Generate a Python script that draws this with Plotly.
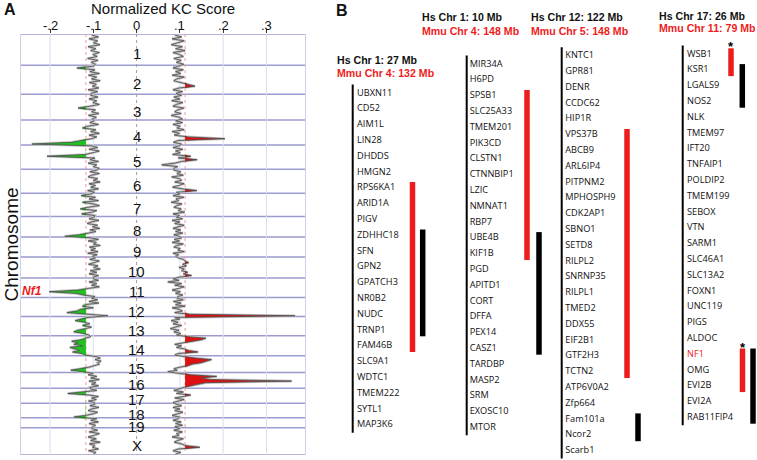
import plotly.graph_objects as go

# ======================= DATA =======================
# ---- Panel A: mouse chromosomes and normalized KC scores ----
CHROMS = ["1", "2", "3", "4", "5", "6", "7", "8", "9", "10",
          "11", "12", "13", "14", "15", "16", "17", "18", "19", "X"]
CHROM_MB = [195.5, 182.1, 160.0, 156.5, 151.8, 149.7, 145.4, 129.4, 124.6, 130.7,
            122.1, 120.1, 120.4, 124.9, 104.0, 98.2, 95.0, 90.7, 61.4, 171.0]
KC_TICKS = [-0.2, -0.1, 0.0, 0.1, 0.2, 0.3]
KC_TICK_TEXT = ["-.2", "-.1", "0", ".1", ".2", ".3"]
NEG_THRESHOLD = -0.117
POS_THRESHOLD = 0.112
NF1_CHROM = "11"
NF1_MB = 79.3

# KC scores (x 1000), evenly sampled along each chromosome
NEG_KC_MILLI = [
    [-104, -88, -110, -90, -100, -85, -112, -94, -106, -86, -101, -91, -113, -89, -105, -95],
    [-100, -138, -96, -108, -86, -111, -92, -104, -84, -109, -93, -102, -87, -112, -90, -105],
    [-106, -89, -110, -92, -101, -86, -108, -135, -95, -104, -87, -111, -93, -102],
    [-98, -108, -88, -112, -125, -94, -106, -86, -110, -92, -104, -128, -150, -242],
    [-104, -90, -110, -86, -102, -118, -207, -96, -108, -88, -112, -92, -100, -86],
    [-92, -108, -86, -104, -112, -90, -100, -84, -110, -95, -106, -88, -113, -97],
    [-106, -128, -95, -110, -88, -125, -100, -86, -112, -130, -92, -104, -127, -96],
    [-98, -110, -87, -105, -114, -90, -102, -85, -108, -94, -111, -132, -166],
    [-104, -88, -112, -93, -100, -84, -109, -95, -106, -89, -113, -91, -102],
    [-95, -108, -86, -102, -111, -89, -99, -84, -107, -92, -110, -88, -100],
    [-100, -88, -110, -92, -104, -86, -112, -135, -202, -140, -122, -96],
    [-104, -90, -110, -87, -118, -125, -100, -130, -138, -161, -112, -66],
    [-112, -128, -142, -120, -108, -125, -104, -118, -136, -145, -122, -110],
    [-106, -118, -128, -150, -135, -145, -125, -154, -140, -132, -148, -126, -120],
    [-92, -84, -96, -82, -90, -86, -98, -110, -130, -152, -125],
    [-100, -112, -92, -106, -86, -110, -94, -104, -88, -108],
    [-106, -92, -122, -159, -110, -88, -104, -93, -111, -97],
    [-96, -108, -87, -104, -112, -90, -100, -118, -145],
    [-92, -106, -88, -110, -95, -102],
    [-104, -90, -110, -86, -100, -112, -93, -106, -84, -109, -96, -102, -88, -111, -94, -100],
]
POS_KC_MILLI = [
    [88, 104, 82, 110, 95, 80, 106, 90, 112, 84, 99, 108, 86, 103, 92, 109],
    [96, 84, 108, 90, 102, 82, 110, 93, 86, 104, 118, 135, 98, 84, 106, 91],
    [104, 86, 100, 81, 107, 92, 84, 109, 95, 88, 103, 80, 98, 106],
    [90, 106, 84, 101, 93, 110, 82, 99, 87, 118, 204, 96, 85, 104],
    [98, 84, 107, 90, 101, 83, 125, 96, 140, 104, 88, 58, 95, 86],
    [86, 102, 93, 108, 81, 99, 104, 88, 110, 94, 83, 106, 139, 92],
    [100, 84, 109, 91, 97, 80, 105, 93, 86, 103, 96, 111, 84, 99],
    [92, 106, 82, 100, 88, 110, 95, 84, 102, 90, 107, 86, 98],
    [104, 87, 99, 82, 108, 93, 86, 101, 95, 110, 84, 97, 90],
    [96, 108, 112, 120, 106, 115, 98, 110, 104, 118, 108, 127, 100],
    [84, 98, 72, 104, 88, 110, 93, 82, 101, 90, 107, 95],
    [94, 108, 85, 103, 90, 112, 82, 99, 106, 88, 122, 366],
    [88, 100, 80, 96, 84, 104, 90, 78, 98, 86, 102, 92],
    [118, 160, 150, 128, 100, 88, 104, 92, 110, 120, 142, 96, 88],
    [108, 135, 173, 160, 150, 128, 118, 100, 86, 94, 72],
    [96, 125, 185, 150, 170, 358, 160, 140, 125, 110],
    [100, 86, 108, 92, 125, 104, 88, 110, 95, 84],
    [92, 104, 84, 100, 88, 107, 95, 82, 99],
    [96, 84, 103, 90, 106, 88],
    [100, 86, 106, 92, 98, 82, 108, 95, 87, 104, 112, 146, 96, 84, 102, 90],
]

# ---- Panel B: syntenic gene lists ----
HS_LABELS = ["Hs Chr 1: 27 Mb", "Hs Chr 1: 10 Mb", "Hs Chr 12: 122 Mb", "Hs Chr 17: 26 Mb"]
MMU_LABELS = ["Mmu Chr 4: 132 Mb", "Mmu Chr 4: 148 Mb", "Mmu Chr 5: 148 Mb", "Mmu Chr 11: 79 Mb"]
GENES_1 = ["UBXN11", "CD52", "AIM1L", "LIN28", "DHDDS", "HMGN2", "RPS6KA1", "ARID1A",
           "PIGV", "ZDHHC18", "SFN", "GPN2", "GPATCH3", "NR0B2", "NUDC", "TRNP1",
           "FAM46B", "SLC9A1", "WDTC1", "TMEM222", "SYTL1", "MAP3K6"]
GENES_2 = ["MIR34A", "H6PD", "SPSB1", "SLC25A33", "TMEM201", "PIK3CD", "CLSTN1",
           "CTNNBIP1", "LZIC", "NMNAT1", "RBP7", "UBE4B", "KIF1B", "PGD", "APITD1",
           "CORT", "DFFA", "PEX14", "CASZ1", "TARDBP", "MASP2", "SRM", "EXOSC10", "MTOR"]
GENES_3 = ["KNTC1", "GPR81", "DENR", "CCDC62", "HIP1R", "VPS37B", "ABCB9", "ARL6IP4",
           "PITPNM2", "MPHOSPH9", "CDK2AP1", "SBNO1", "SETD8", "RILPL2", "SNRNP35",
           "RILPL1", "TMED2", "DDX55", "EIF2B1", "GTF2H3", "TCTN2", "ATP6V0A2",
           "Zfp664", "Fam101a", "Ncor2", "Scarb1"]
GENES_4 = ["WSB1", "KSR1", "LGALS9", "NOS2", "NLK", "TMEM97", "IFT20", "TNFAIP1",
           "POLDIP2", "TMEM199", "SEBOX", "VTN", "SARM1", "SLC46A1", "SLC13A2", "FOXN1",
           "UNC119", "PIGS", "ALDOC", "NF1", "OMG", "EVI2B", "EVI2A", "RAB11FIP4"]
HIGHLIGHT_GENE = "NF1"
BAR_COLUMN = [0, 0, 1, 1, 2, 2, 3, 3, 3, 3]
BAR_START = ["RPS6KA1", "ZDHHC18", "SPSB1", "UBE4B", "VPS37B", "Fam101a", "WSB1", "KSR1", "NF1", "NF1"]
BAR_END = ["FAM46B", "TRNP1", "KIF1B", "CASZ1", "TCTN2", "Ncor2", "KSR1", "NOS2", "EVI2B", "RAB11FIP4"]
BAR_KIND = ["red", "black", "red", "black", "red", "black", "red", "black", "red", "black"]
BAR_STAR = [False, False, False, False, False, False, True, False, True, False]

# ======================= LAYOUT / STYLE =======================
W, H = 757, 460
FONT = "Liberation Sans, Arial, sans-serif"
GENE_FONT = "Open Sans, sans-serif"
RED = "#ee1c1c"
A_LEFT, A_RIGHT, A_TOP, A_BOTTOM = 21, 305, 34, 455
ROW_H = 15.8
COLS = [
    dict(hx=335, hs_y=60, mmu_y=72.7, line_x=352.7, text_x=357, first_y=93.3),
    dict(hx=420, hs_y=17, mmu_y=31, line_x=466.7, text_x=469.7, first_y=64.3),
    dict(hx=529, hs_y=16.7, mmu_y=30.7, line_x=561.7, text_x=565.3, first_y=56),
    dict(hx=656.7, hs_y=15.7, mmu_y=28.3, line_x=682.7, text_x=687, first_y=54.3),
]
BAR_X = [412.5, 422.7, 527, 539, 627, 638, 731, 742.3, 742.5, 753]
BAR_W = 5.5
GENE_LISTS = [GENES_1, GENES_2, GENES_3, GENES_4]


def px(xp):
    return xp / W


def py(yp):
    return 1 - yp / H


fig = go.Figure()

# ---------- Panel A ----------
starts = []
acc = 0.0
for L in CHROM_MB:
    starts.append(acc)
    acc += L
TOTAL = acc

ys_n, neg = [], []
ys_p, pos = [], []
for c, L in enumerate(CHROM_MB):
    nv = NEG_KC_MILLI[c]
    for j, v in enumerate(nv):
        ys_n.append(starts[c] + (j + 0.5) / len(nv) * L)
        neg.append(v / 1000)
    pv = POS_KC_MILLI[c]
    for j, v in enumerate(pv):
        ys_p.append(starts[c] + (j + 0.5) / len(pv) * L)
        pos.append(v / 1000)

common = dict(mode="lines", showlegend=False, hoverinfo="skip", xaxis="x", yaxis="y")
# gray underlay giving the trace its band-like look
fig.add_trace(go.Scatter(x=neg, y=ys_n, line=dict(color="#c4c4c4", width=2.6), **common))
fig.add_trace(go.Scatter(x=pos, y=ys_p, line=dict(color="#c4c4c4", width=2.6), **common))
fig.add_trace(go.Scatter(x=[NEG_THRESHOLD] * len(ys_n), y=ys_n, line=dict(width=0), **common))
fig.add_trace(go.Scatter(x=[min(v, NEG_THRESHOLD) for v in neg], y=ys_n, line=dict(width=0),
                         fill="tonextx", fillcolor="#1fc21f", **common))
fig.add_trace(go.Scatter(x=[POS_THRESHOLD] * len(ys_p), y=ys_p, line=dict(width=0), **common))
fig.add_trace(go.Scatter(x=[max(v, POS_THRESHOLD) for v in pos], y=ys_p, line=dict(width=0),
                         fill="tonextx", fillcolor="#dd1111", **common))
fig.add_trace(go.Scatter(x=neg, y=ys_n, line=dict(color="#4a4a4a", width=0.8), **common))
fig.add_trace(go.Scatter(x=pos, y=ys_p, line=dict(color="#4a4a4a", width=0.8), **common))

shapes = []
for t in KC_TICKS:
    if t == 0:
        shapes.append(dict(type="line", xref="x", yref="y", x0=t, x1=t, y0=0, y1=TOTAL,
                           line=dict(color="#a0a0a0", width=1, dash="dot"), layer="below"))
    else:
        shapes.append(dict(type="line", xref="x", yref="y", x0=t, x1=t, y0=0, y1=TOTAL,
                           line=dict(color="#dcdcf2", width=1), layer="below"))
for thr in (NEG_THRESHOLD, POS_THRESHOLD):
    shapes.append(dict(type="line", xref="x", yref="y", x0=thr, x1=thr, y0=0, y1=TOTAL,
                       line=dict(color="#f19a9a", width=1, dash="dot"), layer="below"))
for b in starts + [TOTAL]:
    shapes.append(dict(type="line", xref="x domain", yref="y", x0=0, x1=1, y0=b, y1=b,
                       line=dict(color="#9b9bcf", width=1.5), layer="below"))

annotations = []


def ann(**kw):
    kw.setdefault("showarrow", False)
    kw.setdefault("xanchor", "center")
    kw.setdefault("yanchor", "middle")
    annotations.append(kw)


for c, name in enumerate(CHROMS):
    ann(x=0, y=starts[c] + CHROM_MB[c] / 2, xref="x", yref="y", text=name, yshift=-4,
        font=dict(family=FONT, size=15, color="#111"))
for t, lab in zip(KC_TICKS, KC_TICK_TEXT):
    ann(x=t, y=py(25), xref="x", yref="paper", text=lab,
        font=dict(family=FONT, size=13, color="#111"))
ann(x=px(32), y=starts[CHROMS.index(NF1_CHROM)] + NF1_MB, xref="paper", yref="y",
    text="<b><i>Nf1</i></b>", font=dict(family=FONT, size=12, color=RED))
ann(x=px((A_LEFT + A_RIGHT) / 2), y=py(8), xref="paper", yref="paper",
    text="Normalized KC Score", font=dict(family=FONT, size=15, color="#111"))
ann(x=px(11), y=py((A_TOP + A_BOTTOM) / 2), xref="paper", yref="paper",
    text="Chromosome", textangle=-90, font=dict(family=FONT, size=19, color="#111"))
ann(x=px(10), y=py(9), xref="paper", yref="paper", text="<b>A</b>",
    font=dict(family=FONT, size=16, color="#111"))
ann(x=px(342), y=py(11), xref="paper", yref="paper", text="<b>B</b>",
    font=dict(family=FONT, size=16, color="#111"))

# ---------- Panel B ----------
for c, genes in enumerate(GENE_LISTS):
    ya = "y%d" % (c + 2)
    col = COLS[c]
    fig.add_trace(go.Scatter(
        x=[col["text_x"]] * len(genes), y=list(range(len(genes))), text=genes,
        mode="text", textposition="middle right", showlegend=False, hoverinfo="skip",
        textfont=dict(family=GENE_FONT, size=9.2,
                      color=[RED if g == HIGHLIGHT_GENE else "#111" for g in genes]),
        xaxis="x2", yaxis=ya))
    shapes.append(dict(type="line", xref="x2", yref=ya, x0=col["line_x"], x1=col["line_x"],
                       y0=-0.55, y1=len(genes) - 1 + 0.48, line=dict(color="#000", width=2)))
    ann(x=px(col["hx"]), y=py(col["hs_y"]), xref="paper", yref="paper", xanchor="left",
        text="<b>%s</b>" % HS_LABELS[c], font=dict(family=FONT, size=10.6, color="#111"))
    ann(x=px(col["hx"]), y=py(col["mmu_y"]), xref="paper", yref="paper", xanchor="left",
        text="<b>%s</b>" % MMU_LABELS[c], font=dict(family=FONT, size=10.6, color=RED))

for i in range(len(BAR_COLUMN)):
    c = BAR_COLUMN[i]
    genes = GENE_LISTS[c]
    ya = "y%d" % (c + 2)
    i0 = genes.index(BAR_START[i])
    i1 = genes.index(BAR_END[i])
    color = RED if BAR_KIND[i] == "red" else "#000"
    shapes.append(dict(type="rect", xref="x2", yref=ya, x0=BAR_X[i] - BAR_W / 2,
                       x1=BAR_X[i] + BAR_W / 2, y0=i0 - 0.38, y1=i1 + 0.38,
                       fillcolor=color, line=dict(width=0)))
    if BAR_STAR[i]:
        ann(x=BAR_X[i], y=i0 - 0.38, xref="x2", yref=ya, yanchor="bottom",
            text="<b>*</b>", yshift=-8, font=dict(family=FONT, size=13, color="#000"))

layout_axes = dict(
    xaxis=dict(domain=[px(A_LEFT), px(A_RIGHT)], range=[-0.267, 0.389], side="top",
               tickvals=KC_TICKS, showticklabels=False, ticks="outside", ticklen=4,
               tickcolor="#333", showgrid=False, zeroline=False, showline=False,
               automargin=False, fixedrange=True),
    yaxis=dict(domain=[py(A_BOTTOM), py(A_TOP)], range=[TOTAL, 0], showticklabels=False,
               showgrid=False, zeroline=False, showline=True, mirror=True,
               linecolor="#cfcfe6", linewidth=1, ticks="", automargin=False, fixedrange=True),
    xaxis2=dict(domain=[0, 1], range=[0, W], visible=False, fixedrange=True, anchor="y2"),
)
for c in range(4):
    v_top = -COLS[c]["first_y"] / ROW_H
    v_bot = v_top + H / ROW_H
    ax = dict(domain=[0, 1], range=[v_bot, v_top], visible=False, fixedrange=True, anchor="x2")
    if c > 0:
        ax["overlaying"] = "y2"
    layout_axes["yaxis%d" % (c + 2)] = ax

fig.update_layout(
    width=W, height=H, margin=dict(l=0, r=0, t=0, b=0),
    paper_bgcolor="white", plot_bgcolor="rgba(0,0,0,0)",
    shapes=shapes, annotations=annotations, showlegend=False,
    **layout_axes,
)
fig.write_html("out.html", config={"displayModeBar": False},
               post_script="document.body.style.margin='0px';document.body.style.overflow='hidden';")
